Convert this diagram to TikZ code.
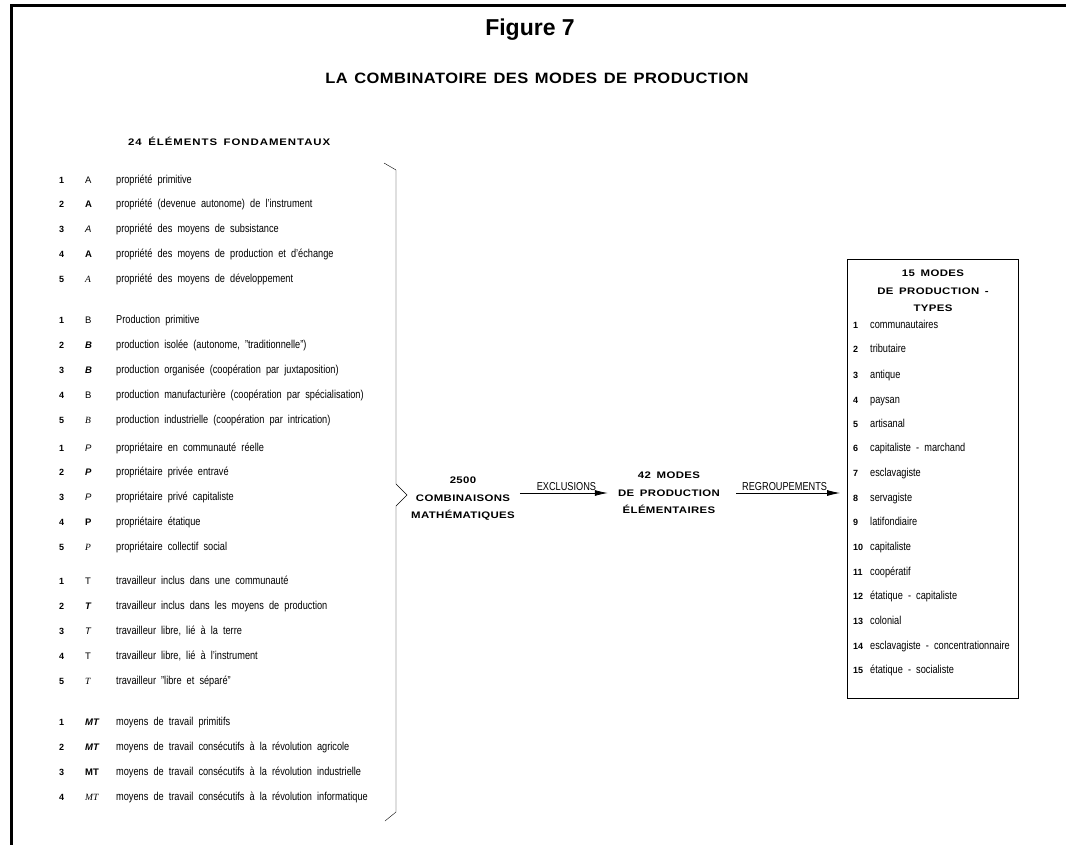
\documentclass[tikz,border=0pt]{standalone}
\usepackage{fontspec}
\setmainfont{Liberation Sans}
\newfontfamily\condfont[FakeStretch=0.8,WordSpace=2]{Liberation Sans}
\newfontfamily\widefont[FakeStretch=1.2,LetterSpace=4,WordSpace=1.6]{Liberation Sans}
\newfontfamily\spacedfont[FakeStretch=1.2,LetterSpace=10,WordSpace=1.6]{Liberation Sans}
\newfontfamily\headfont[FakeStretch=1.1,LetterSpace=3,WordSpace=1.3]{Liberation Sans}
\newfontfamily\oddletter{Liberation Serif}
\usetikzlibrary{arrows.meta}

\tikzstyle{element} = [anchor=base west,inner sep=0pt,font=\condfont\fontsize{11.5}{13}\selectfont]
\tikzstyle{rownum} = [anchor=base west,inner sep=0pt,font=\bfseries\fontsize{9}{10}\selectfont]
\tikzstyle{letter} = [anchor=base west,inner sep=0pt,font=\fontsize{9.5}{10}\selectfont]
\tikzstyle{stage} = [align=center,inner sep=2pt,font=\widefont\bfseries\fontsize{9.5}{17.5}\selectfont]
\tikzstyle{flow} = [draw,thick,-{Latex[length=13pt,width=6pt]}]
\tikzstyle{flowlabel} = [above,inner sep=2pt,font=\condfont\fontsize{11.5}{13}\selectfont]
\newcommand{\px}{1pt}

\begin{document}
\begin{tikzpicture}[x=\px, y=-\px]
    \useasboundingbox (0,0) rectangle (1066,845);
    % frame on top and on the left
    \draw[line width=3pt] (11.5,845) -- (11.5,5.5) -- (1066,5.5);

    % titles
    \node[font=\bfseries\fontsize{23}{26}\selectfont] (fig) at (530,30) {Figure 7};
    \node[font=\headfont\bfseries\fontsize{15}{18}\selectfont] (title) at (537,78) {LA COMBINATOIRE DES MODES DE PRODUCTION};
    \node[anchor=west,inner sep=0pt,font=\spacedfont\bfseries\fontsize{9.5}{12}\selectfont] (elemhead) at (128,141) {24 ÉLÉMENTS FONDAMENTAUX};

    % First we draw the 24 elements
    \foreach \y/\num/\sym/\txt in {
        180/1/A/propriété primitive,
        204/2/\textbf{A}/{propriété (devenue autonome) de l’instrument},
        229/3/\textit{A}/propriété des moyens de subsistance,
        254/4/\textbf{A}/{propriété des moyens de production et d’échange},
        279/5/{\oddletter\itshape A}/propriété des moyens de développement,
        320/1/B/Production primitive,
        345/2/\textbf{\textit{B}}/{production isolée (autonome, ”traditionnelle”)},
        370/3/\textbf{\textit{B}}/{production organisée (coopération par juxtaposition)},
        395/4/B/{production manufacturière (coopération par spécialisation)},
        420/5/{\oddletter\itshape B}/{production industrielle (coopération par intrication)},
        448/1/\textit{P}/propriétaire en communauté réelle,
        472/2/\textbf{\textit{P}}/propriétaire privée entravé,
        497/3/\textit{P}/propriétaire privé capitaliste,
        522/4/\textbf{P}/propriétaire étatique,
        547/5/{\oddletter\itshape P}/propriétaire collectif social,
        581/1/T/travailleur inclus dans une communauté,
        606/2/\textbf{\textit{T}}/travailleur inclus dans les moyens de production,
        631/3/\textit{T}/{travailleur libre, lié à la terre},
        656/4/T/{travailleur libre, lié à l’instrument},
        681/5/{\oddletter\itshape T}/travailleur ”libre et séparé”,
        722/1/\textbf{\textit{MT}}/moyens de travail primitifs,
        747/2/\textbf{\textit{MT}}/moyens de travail consécutifs à la révolution agricole,
        772/3/\textbf{MT}/moyens de travail consécutifs à la révolution industrielle,
        797/4/{\oddletter\itshape MT}/moyens de travail consécutifs à la révolution informatique}
    {
        \node[rownum] at (59,\y+3.5) {\num};
        \node[letter] at (85,\y+3.5) {\sym};
        \node[element] at (116,\y+3.5) {\txt};
    }

    % the brace that gathers them
    \draw (384,163) -- (396,170) -- (396,484) -- (407,495) -- (396,506) -- (396,812) -- (385,821);

    % the stages and the arrows between them
    \node[stage] (comb) at (463,499) {2500\\COMBINAISONS\\MATHÉMATIQUES};
    \node[stage] (elem) at (669,493) {42 MODES\\DE PRODUCTION\\ÉLÉMENTAIRES};
    \node[draw,thick,minimum width=171pt,minimum height=439pt,inner sep=0pt] (types) at (933,478.5) {};
    \node[stage,anchor=north] (typeshead) at (933,268) {15 MODES\\DE PRODUCTION -\\TYPES};

    \path[flow,shorten <=3pt,shorten >=8pt] (comb.east |- elem) -- node[flowlabel] {EXCLUSIONS} (elem.west);
    \path[flow,shorten <=14pt,shorten >=7pt] (elem.east) -- node[flowlabel] {REGROUPEMENTS} (elem.east -| types.west);

    % the 15 types in the box
    \foreach \y/\num/\txt in {325/1/communautaires, 349/2/tributaire, 375/3/antique,
        400/4/paysan, 424/5/artisanal, 448/6/capitaliste - marchand, 473/7/esclavagiste,
        498/8/servagiste, 522/9/latifondiaire, 547/10/capitaliste, 572/11/coopératif,
        596/12/étatique - capitaliste, 621/13/colonial, 646/14/esclavagiste - concentrationnaire,
        670/15/étatique - socialiste}
    {
        \node[rownum] at (853,\y+3.5) {\num};
        \node[element] at (870,\y+3.5) {\txt};
    }
\end{tikzpicture}
\end{document}
